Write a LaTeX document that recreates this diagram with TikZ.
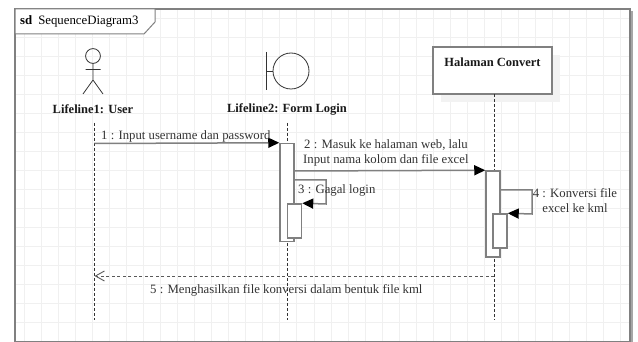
\documentclass[tikz,border=0pt]{standalone}
\usepackage{fontspec}
\setmainfont{Liberation Serif}
\usetikzlibrary{arrows.meta}
\definecolor{gridline}{gray}{0.94}
\definecolor{umlline}{gray}{0.50}
\tikzset{
	lifeline/.style={black!80!white,densely dashed,line width=0.8pt},
	activation/.style={draw=umlline,fill=white,line width=1.5pt},
	message/.style={draw=umlline,line width=1.5pt,-{Triangle[black,length=11pt,width=10pt]}},
	reply/.style={draw=black!65!white,dash pattern=on 3pt off 2.5pt,line width=0.9pt,-{Straight Barb[length=9pt,width=10pt,black!65!white]}},
	msglabel/.style={black!80!white,font=\fontsize{12.75}{15}\selectfont,inner sep=0pt,align=center},
	headlabel/.style={black!90!white,font=\fontsize{12.5}{15}\selectfont\bfseries,inner sep=0pt},
}
\begin{document}
\begin{tikzpicture}[x=1pt,y=-1pt]
	\useasboundingbox (0,0) rectangle (638,342);
	\fill[white] (0,0) rectangle (638,342);
	% grid
	\foreach \i in {0,...,35}
		\draw[gridline,line width=0.7pt] ({24+17.05*\i},9) -- ({24+17.05*\i},341);
	\foreach \j in {0,...,16}
		\draw[gridline,line width=0.7pt] (15,{18.5+19*\j}) -- (630,{18.5+19*\j});
	% frame
	\draw[umlline,line width=1.5pt] (15,342) -- (15,9) -- (630,9) -- (630,342);
	\draw[umlline!70!white,line width=1.2pt] (632,11) -- (632,342);
	\draw[umlline,line width=1pt] (15,341) -- (630,341);
	\draw[umlline,fill=white,line width=1pt] (15,9) -- (155,9) -- (155,22) -- (144,34) -- (15,34) -- cycle;
	\node[anchor=west,inner sep=0pt,font=\fontsize{12.8}{15}\selectfont] (framelabel) at (20,21.5) {\textbf{sd}\hspace{6pt}SequenceDiagram3};
	% user
	\draw[black!80!white,line width=0.8pt] (93,56) circle [radius=7.4];
	\draw[black!80!white,line width=0.8pt] (93,63.5) -- (93,80) (85.5,69.5) -- (100.5,69.5) (83,94) -- (93,80) -- (103,94);
	\node[headlabel] (user) at (93,109.5) {Lifeline1: User};
	% form login
	\draw[black!80!white,line width=0.8pt] (291,71) circle [radius=18];
	\draw[black!80!white,line width=0.8pt] (266,52) -- (266,90) (266,71) -- (273,71);
	\node[headlabel] (login) at (287,109.5) {Lifeline2: Form Login};
	% halaman convert
	\fill[black!5!white] (441,55) rectangle (560,102);
	\node[draw=umlline,fill=white,line width=1.5pt,minimum width=119pt,minimum height=47pt,inner sep=0pt] (convert) at (492.5,70.5) {};
	\node[headlabel] (converttext) at (492.5,62) {Halaman Convert};
	% lifelines
	\coordinate (userend) at (94.5,320);
	\coordinate (loginend) at (287.5,320);
	\coordinate (convertend) at (494,320);
	\draw[lifeline] (94.5,123) -- (userend);
	\draw[lifeline] (287.5,123) -- (loginend);
	\draw[lifeline] (494,94) -- (convertend);
	% activations
	\node[activation,minimum width=14pt,minimum height=98pt,inner sep=0pt] (actloginA) at (287,192.5) {};
	\node[activation,minimum width=14pt,minimum height=86pt,inner sep=0pt] (actconvA) at (493,214) {};
	\node[activation,minimum width=14pt,minimum height=34pt,inner sep=0pt] (actloginB) at (294.5,221) {};
	\node[activation,minimum width=14pt,minimum height=34pt,inner sep=0pt] (actconvB) at (500,231) {};
	% messages
	\coordinate (userA) at (94.5,143.5);
	\draw[message] (userA) -- (actloginA.north west);
	\draw[message] (actloginA.east |- 0,171) -- (actconvA.north west);
	\draw[message] (actloginA.east |- 0,180) -- (326,180) -- (326,204) -- (actloginB.north east);
	\draw[message] (actconvA.east |- 0,190) -- (532,190) -- (532,214) -- (actconvB.north east);
	\coordinate (userB) at (94.5,276);
	\draw[reply] (494,276) -- (userB);
	% labels
	\node[msglabel,anchor=west] (msgA) at (101,136) {1 : Input username dan password};
	\node[msglabel,anchor=west,align=left] (msgB) at (303,153) {\hspace{1pt}2 : Masuk ke halaman web, lalu\\Input nama kolom dan file excel};
	\node[msglabel,anchor=west] (msgC) at (298,190) {3 : Gagal login};
	\node[msglabel] (msgD) at (575,201) {4 : Konversi file\\excel ke kml};
	\node[msglabel,anchor=west] (msgE) at (150,290) {5 : Menghasilkan file konversi dalam bentuk file kml};
\end{tikzpicture}
\end{document}
